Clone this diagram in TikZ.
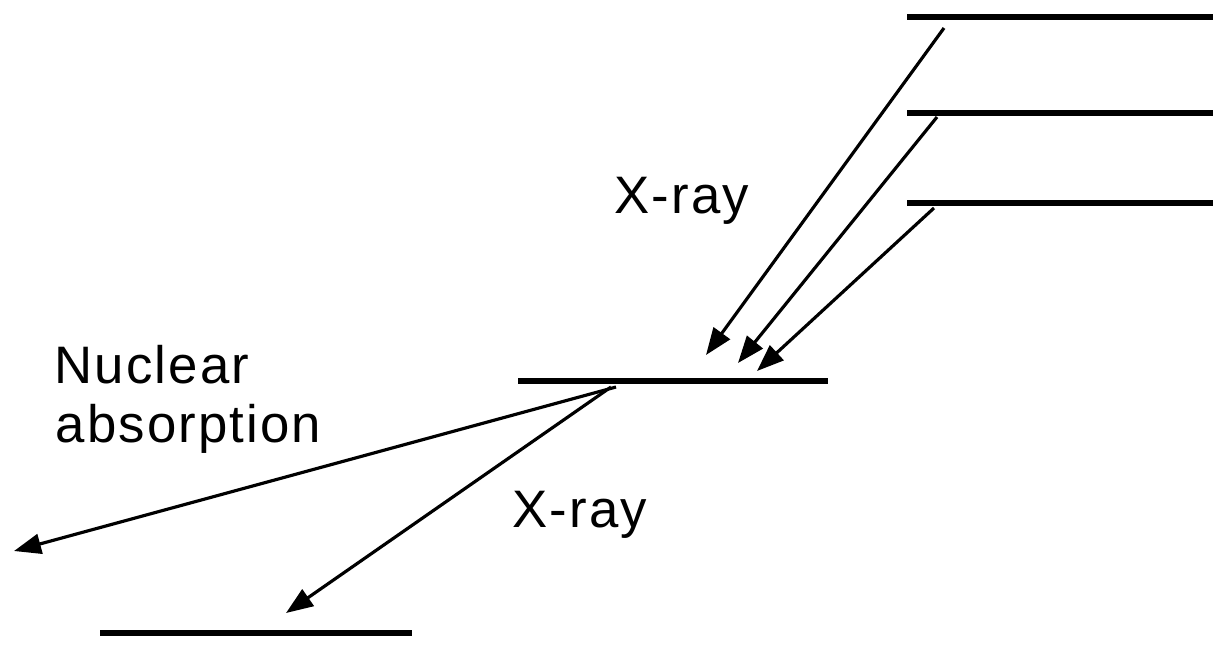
\documentclass[tikz,border=0pt]{standalone}
\usepackage{fontspec}
\setmainfont{Liberation Sans}
\usetikzlibrary{arrows.meta}

\begin{document}
\begin{tikzpicture}[
    x=0.01cm, y=-0.01cm,
    lvl/.style={draw, line width=1.7pt},
    trans/.style={draw, line width=0.9pt, -{Triangle[length=0.27cm, width=0.2cm]}},
    lbl/.style={anchor=base west, inner sep=0pt, font=\fontsize{15}{18}\selectfont\addfontfeature{LetterSpace=4}}
]
    \useasboundingbox (0,0) rectangle (1213,645);

    % upper levels
    \coordinate (up1l) at (907,17);  \coordinate (up1r) at (1213,17);
    \coordinate (up2l) at (907,113); \coordinate (up2r) at (1213,113);
    \coordinate (up3l) at (907,203); \coordinate (up3r) at (1213,203);
    % middle and lower level
    \coordinate (midl) at (518,381); \coordinate (midr) at (828,381);
    \coordinate (lowl) at (100,633); \coordinate (lowr) at (412,633);

    \draw[lvl] (up1l) -- (up1r);
    \draw[lvl] (up2l) -- (up2r);
    \draw[lvl] (up3l) -- (up3r);
    \draw[lvl] (midl) -- (midr);
    \draw[lvl] (lowl) -- (lowr);

    % transitions down to the middle level
    \coordinate (from1) at (944,28);  \coordinate (to1) at (706,355);
    \coordinate (from2) at (937,117); \coordinate (to2) at (738,363);
    \coordinate (from3) at (934,208); \coordinate (to3) at (757,371);
    \draw[trans] (from1) -- (to1);
    \draw[trans] (from2) -- (to2);
    \draw[trans] (from3) -- (to3);

    % out of the middle level
    \coordinate (from4) at (616,387); \coordinate (to4) at (14,551);
    \coordinate (from5) at (611,387); \coordinate (to5) at (286,613);
    \draw[trans] (from4) -- (to4);
    \draw[trans] (from5) -- (to5);

    \node[lbl] (xrayup)  at (614,213) {X-ray};
    \node[lbl] (xraylow) at (512,527) {X-ray};
    \node[lbl] (nuc)     at (54,383)  {Nuclear};
    \node[lbl] (abs)     at (55,442)  {absorption};
\end{tikzpicture}
\end{document}
